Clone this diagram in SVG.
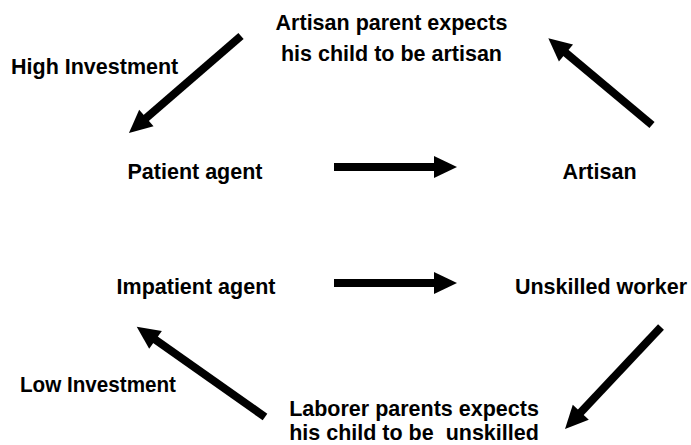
<svg xmlns="http://www.w3.org/2000/svg" width="691" height="445" viewBox="0 0 691 445">
<style>
text{font-family:"Liberation Sans",Arial,sans-serif;font-weight:bold;font-size:21.5px;fill:#000;white-space:pre}
.c{text-anchor:middle}
.arr{stroke:#000;stroke-width:8;fill:none;marker-end:url(#ah)}
</style>
<defs>
<marker id="ah" markerUnits="userSpaceOnUse" markerWidth="24" markerHeight="24" viewBox="0 -12 24 24" refX="1" refY="0" orient="auto" overflow="visible">
<path d="M0,-11 L23,0 L0,11 z" fill="#000"/>
</marker>
</defs>
<rect width="691" height="445" fill="#fff"/>
<g id="connectors">
<line class="arr" x1="241" y1="36" x2="145.6" y2="118.6"/>
<line class="arr" x1="334" y1="167" x2="435" y2="167"/>
<line class="arr" x1="652" y1="125" x2="565.2" y2="52.4"/>
<line class="arr" x1="334" y1="283" x2="435" y2="283"/>
<line class="arr" x1="661" y1="327" x2="580.1" y2="413"/>
<line class="arr" x1="265" y1="417" x2="154.7" y2="339.3"/>
</g>
<g id="artisan-parent"><text class="c" x="391.5" y="30">Artisan parent expects</text><text class="c" x="391.5" y="61">his child to be artisan</text></g>
<g id="high-investment"><text x="11" y="74">High Investment</text></g>
<g id="patient-agent"><text class="c" x="195" y="179">Patient agent</text></g>
<g id="artisan"><text class="c" x="599.5" y="179">Artisan</text></g>
<g id="impatient-agent"><text class="c" x="196" y="294">Impatient agent</text></g>
<g id="unskilled-worker"><text class="c" x="601" y="294">Unskilled worker</text></g>
<g id="low-investment"><text x="20" y="392" textLength="156" lengthAdjust="spacingAndGlyphs">Low Investment</text></g>
<g id="laborer-parents"><text class="c" x="414" y="416">Laborer parents expects</text><text class="c" x="414" y="440">his child to be  unskilled</text></g>
</svg>
